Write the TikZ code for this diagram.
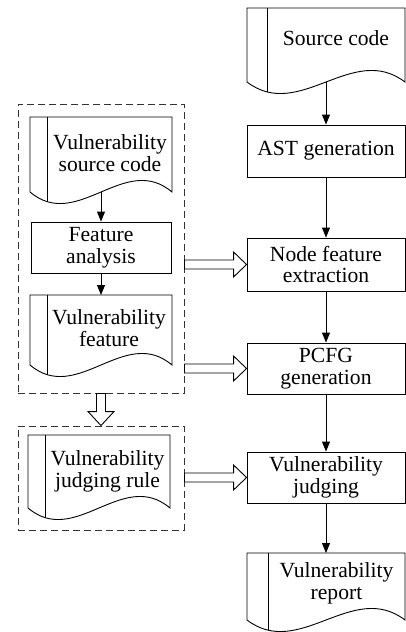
\documentclass[tikz,border=0pt]{standalone}
\usepackage{fontspec}
\setmainfont{Liberation Serif}
\newfontfamily\dgserif{Liberation Serif}
\usetikzlibrary{calc,arrows.meta}
\tikzset{
  boxline/.style={line width=0.9pt},
  procbox/.style={draw, boxline, inner sep=0pt, align=center, font=\dgserif\fontsize{21.6}{21.8}\selectfont},
  docrect/.style={inner sep=0pt, outer sep=0pt},
  doctext/.style={inner sep=0pt, align=center, font=\dgserif\fontsize{21.6}{21.8}\selectfont},
  groupbox/.style={draw=black!80, line width=0.9pt, dash pattern=on 7pt off 4pt, inner sep=0pt},
  arr/.style={boxline, -{Triangle[length=10pt,width=8pt]}},
  hollow/.style={draw, fill=white, boxline, line join=miter},
}
\newcommand\docshape[2]{%
  \draw[boxline] (#1.north west) -- (#1.north east) -- (#1.south east)
    .. controls ($(#1.south east)!.333!(#1.south west)+(0,-40)$) and ($(#1.south east)!.667!(#1.south west)+(0,40)$) .. (#1.south west) -- cycle;
  \begin{scope}
    \clip (#1.north west) -- (#1.north east) -- (#1.south east)
      .. controls ($(#1.south east)!.333!(#1.south west)+(0,-40)$) and ($(#1.south east)!.667!(#1.south west)+(0,40)$) .. (#1.south west) -- cycle;
    \draw[boxline] ($(#1.north west)+(#2,0)$) -- ++(0,120);
  \end{scope}}
\newcommand\hollowright[2]{%
  \draw[hollow] ($(#1.east|-#2.west)+(0,-4.5)$) -- ($(#2.west)+(-13,-4.5)$) -- ($(#2.west)+(-13,-12.5)$) -- (#2.west) -- ($(#2.west)+(-13,12.5)$) -- ($(#2.west)+(-13,4.5)$) -- ($(#1.east|-#2.west)+(0,4.5)$) -- cycle;}
\begin{document}
\begin{tikzpicture}[x=1pt,y=-1pt]
\useasboundingbox (0,0) rectangle (406,632);
% right column
\node[docrect, minimum width=158pt, minimum height=74pt] (src) at (326,45) {};
\docshape{src}{20}
\node[doctext] (srcT) at (336,38) {Source code};
\node[procbox, minimum width=158pt, minimum height=52pt] (ast) at (326,151) {AST generation};
\node[procbox, minimum width=158pt, minimum height=53pt] (nfe) at (326,264.5) {Node feature\\extraction};
\node[procbox, minimum width=158pt, minimum height=51pt] (pcfg) at (326,368.5) {PCFG\\generation};
\node[procbox, minimum width=158pt, minimum height=51pt] (vj) at (326,477.5) {Vulnerability\\judging};
\node[docrect, minimum width=158pt, minimum height=67pt] (rep) at (326,586.5) {};
\docshape{rep}{21}
\node[doctext] (repT) at (336.5,583.5) {Vulnerability\\report};
% left column
\node[groupbox, minimum width=166pt, minimum height=289pt] (g1) at (101,248.5) {};
\node[groupbox, minimum width=166pt, minimum height=104pt] (g2) at (101,478) {};
\node[docrect, minimum width=142pt, minimum height=75pt] (vsc) at (101,154.5) {};
\docshape{vsc}{17}
\node[doctext] (vscT) at (110,153) {Vulnerability\\source code};
\node[procbox, minimum width=140pt, minimum height=51pt] (fa) at (101,247.5) {Feature\\analysis};
\node[docrect, minimum width=142pt, minimum height=70pt] (vf) at (101,330) {};
\docshape{vf}{17}
\node[doctext] (vfT) at (109,328) {Vulnerability\\feature};
\node[docrect, minimum width=142pt, minimum height=73pt] (vjr) at (99,471.5) {};
\docshape{vjr}{17}
\node[doctext] (vjrT) at (107.5,471.5) {Vulnerability\\judging rule};
% connectors
\draw[arr] (src.south) -- (ast.north);
\draw[arr] (ast.south) -- (nfe.north);
\draw[arr] (nfe.south) -- (pcfg.north);
\draw[arr] (pcfg.south) -- (vj.north);
\draw[arr] (vj.south) -- (rep.north);
\draw[arr] (vsc.south) -- (fa.north);
\draw[arr] (fa.south) -- (vf.north);
\hollowright{g1}{nfe}
\hollowright{g1}{pcfg}
\hollowright{g2}{vj}
\draw[hollow] ($(g1.south)+(-4.5,0)$) -- ($(g2.north)+(-4.5,-14)$) -- ($(g2.north)+(-13,-14)$) -- (g2.north) -- ($(g2.north)+(13,-14)$) -- ($(g2.north)+(4.5,-14)$) -- ($(g1.south)+(4.5,0)$) -- cycle;
\end{tikzpicture}
\end{document}
